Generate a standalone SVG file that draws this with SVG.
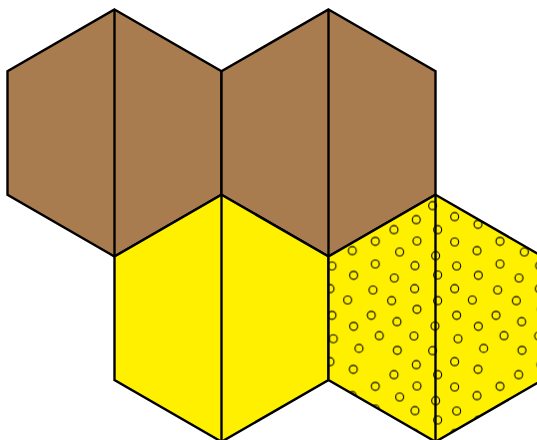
<svg xmlns="http://www.w3.org/2000/svg" width="537" height="440" viewBox="0 0 537 440">
  <style>
    .edge { stroke: #000; stroke-width: 2.4; stroke-linejoin: miter; }
    .brown { fill: #a97c50; }
    .yellow { fill: #fff000; }
    .div { stroke: #000; stroke-width: 2.4; fill: none; }
    .dot { fill: none; stroke: #000; stroke-width: 1.1; }
  </style>
  <defs>
    <pattern id="dots" patternUnits="userSpaceOnUse" x="321.33" y="198.5" width="124.67" height="145">
      <rect width="124.67" height="145" fill="#fff000"/>
      <g class="dot">
        <circle cx="111.34" cy="7.17" r="4"/>
        <circle cx="95" cy="21.17" r="4"/>
        <circle cx="72.67" cy="31.17" r="4"/>
        <circle cx="54" cy="42.83" r="4"/>
        <circle cx="31" cy="52.17" r="4"/>
        <circle cx="95.67" cy="42.5" r="4"/>
        <circle cx="78.34" cy="53.5" r="4"/>
        <circle cx="116.34" cy="31.17" r="4"/>
        <circle cx="114.34" cy="57.17" r="4"/>
        <circle cx="10.67" cy="67.5" r="4"/>
        <circle cx="54" cy="65.5" r="4"/>
        <circle cx="93.67" cy="67.17" r="4"/>
        <circle cx="32.34" cy="76.83" r="4"/>
        <circle cx="73" cy="79.5" r="4"/>
        <circle cx="116.34" cy="76.5" r="4"/>
        <circle cx="8.67" cy="90.17" r="4"/>
        <circle cx="51.67" cy="91.5" r="4"/>
        <circle cx="93.34" cy="90.17" r="4"/>
        <circle cx="26.34" cy="101.5" r="4"/>
        <circle cx="70.34" cy="102.17" r="4"/>
        <circle cx="116.34" cy="102.17" r="4"/>
        <circle cx="95.67" cy="110.83" r="4"/>
        <circle cx="10.67" cy="116.83" r="4"/>
        <circle cx="50" cy="116.83" r="4"/>
        <circle cx="32.34" cy="127.83" r="4"/>
        <circle cx="75.67" cy="123.17" r="4"/>
        <circle cx="113.67" cy="127.5" r="4"/>
        <circle cx="58" cy="137.17" r="4"/>
        <circle cx="92.67" cy="137.5" r="4"/>
        <circle cx="12" cy="140.3" r="4"/>
        <circle cx="76" cy="6.83" r="4"/>
        <circle cx="37.67" cy="4.9" r="4"/>
        <circle cx="32" cy="25.83" r="4"/>
        <circle cx="8.67" cy="18.17" r="4"/>
        <circle cx="8.67" cy="43.5" r="4"/>
      </g>
    </pattern>
  </defs>

  <g id="hex-brown-left">
    <polygon class="edge brown" points="114.5,9.5 221.5,71.25 221.5,194.75 114.5,256.5 7.5,194.75 7.5,71.25"/>
    <line class="div" x1="114.5" y1="9.5" x2="114.5" y2="256.5"/>
  </g>
  <g id="hex-brown-right">
    <polygon class="edge brown" points="328.5,9.5 435.5,71.25 435.5,194.75 328.5,256.5 221.5,194.75 221.5,71.25"/>
    <line class="div" x1="328.5" y1="9.5" x2="328.5" y2="256.5"/>
  </g>
  <g id="hex-yellow">
    <polygon class="edge yellow" points="221.5,194.75 328.5,256.5 328.5,380 221.5,441.75 114.5,380 114.5,256.5"/>
    <line class="div" x1="221.5" y1="194.75" x2="221.5" y2="441.75"/>
  </g>
  <g id="hex-yellow-dotted">
    <polygon class="edge" fill="url(#dots)" points="435.5,194.75 542.5,256.5 542.5,380 435.5,441.75 328.5,380 328.5,256.5"/>
    <line class="div" x1="435.5" y1="194.75" x2="435.5" y2="441.75"/>
  </g>
  <g id="connectors"/>
</svg>
